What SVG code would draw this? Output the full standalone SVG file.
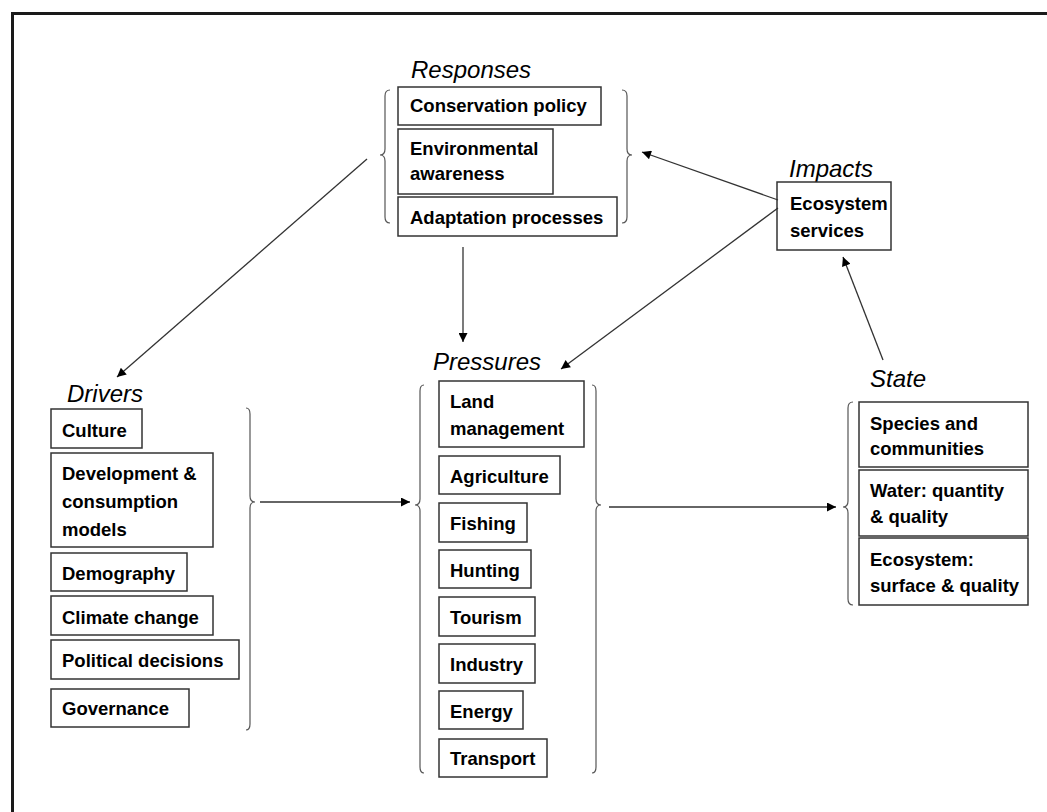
<svg xmlns="http://www.w3.org/2000/svg" width="1047" height="812" viewBox="0 0 1047 812">
<defs>
<marker id="ah" viewBox="0 0 10 10" refX="10" refY="5" markerWidth="11" markerHeight="9" markerUnits="userSpaceOnUse" orient="auto">
<path d="M0 0 L10 5 L0 10 Z" fill="#000"/>
</marker>
<style>
.box{fill:#fff;stroke:#333;stroke-width:1.5}
.t{font-family:"Liberation Sans",Arial,sans-serif;font-weight:bold;font-size:18.5px;fill:#000}
.h{font-family:"Liberation Sans",Arial,sans-serif;font-style:italic;font-size:24px;fill:#000}
.br{fill:none;stroke:#555;stroke-width:1.2}
.c{stroke:#333;stroke-width:1.3;fill:none;marker-end:url(#ah)}
</style>
</defs>
<rect width="1047" height="812" fill="#fff"/>
<path d="M12.5 812 L12.5 13.5 L1047 13.5" fill="none" stroke="#1a1a1a" stroke-width="3"/>

<g id="responses">
<text class="h" x="411" y="78">Responses</text>
<path class="br" d="M390 90 Q385 90 385 96 L385 149 Q385 155 380 155 Q385 155 385 161 L385 217 Q385 223 390 223"/>
<path class="br" d="M622 90 Q627 90 627 96 L627 149 Q627 155 632 155 Q627 155 627 161 L627 217 Q627 223 622 223"/>
<rect class="box" x="398" y="87" width="203" height="38"/>
<text class="t" x="410" y="112">Conservation policy</text>
<rect class="box" x="398" y="129" width="155" height="65"/>
<text class="t" x="410" y="155">Environmental</text>
<text class="t" x="410" y="180">awareness</text>
<rect class="box" x="398" y="197" width="219" height="39"/>
<text class="t" x="410" y="224">Adaptation processes</text>
</g>

<g id="impacts">
<text class="h" x="789" y="177">Impacts</text>
<rect class="box" x="777" y="182" width="114" height="68"/>
<text class="t" x="790" y="210">Ecosystem</text>
<text class="t" x="790" y="237">services</text>
</g>

<g id="drivers">
<text class="h" x="67" y="402">Drivers</text>
<path class="br" d="M246 408 Q250 408 250 414 L250 496 Q250 502 255 502 Q250 502 250 508 L250 724 Q250 730 246 730"/>
<rect class="box" x="51" y="409" width="91" height="39"/>
<text class="t" x="62" y="437">Culture</text>
<rect class="box" x="51" y="453" width="162" height="94"/>
<text class="t" x="62" y="480">Development &amp;</text>
<text class="t" x="62" y="508">consumption</text>
<text class="t" x="62" y="536">models</text>
<rect class="box" x="51" y="553" width="136" height="38"/>
<text class="t" x="62" y="580">Demography</text>
<rect class="box" x="51" y="596" width="162" height="39"/>
<text class="t" x="62" y="624">Climate change</text>
<rect class="box" x="51" y="640" width="188" height="39"/>
<text class="t" x="62" y="667">Political decisions</text>
<rect class="box" x="51" y="689" width="138" height="38"/>
<text class="t" x="62" y="715">Governance</text>
</g>

<g id="pressures">
<text class="h" x="433" y="370">Pressures</text>
<path class="br" d="M424 385 Q420 385 420 391 L420 499 Q420 505 415 505 Q420 505 420 511 L420 767 Q420 773 424 773"/>
<path class="br" d="M592 385 Q596 385 596 391 L596 499 Q596 505 601 505 Q596 505 596 511 L596 767 Q596 773 592 773"/>
<rect class="box" x="439" y="381" width="145" height="66"/>
<text class="t" x="450" y="408">Land</text>
<text class="t" x="450" y="435">management</text>
<rect class="box" x="439" y="456" width="121" height="38"/>
<text class="t" x="450" y="483">Agriculture</text>
<rect class="box" x="439" y="503" width="88" height="39"/>
<text class="t" x="450" y="530">Fishing</text>
<rect class="box" x="439" y="550" width="92" height="38"/>
<text class="t" x="450" y="577">Hunting</text>
<rect class="box" x="439" y="597" width="96" height="39"/>
<text class="t" x="450" y="624">Tourism</text>
<rect class="box" x="439" y="644" width="96" height="39"/>
<text class="t" x="450" y="671">Industry</text>
<rect class="box" x="439" y="691" width="84" height="38"/>
<text class="t" x="450" y="718">Energy</text>
<rect class="box" x="439" y="739" width="108" height="38"/>
<text class="t" x="450" y="765">Transport</text>
</g>

<g id="state">
<text class="h" x="870" y="387">State</text>
<path class="br" d="M853 402 Q848 402 848 408 L848 501 Q848 507 843 507 Q848 507 848 513 L848 599 Q848 605 853 605"/>
<rect class="box" x="859" y="402" width="169" height="65"/>
<text class="t" x="870" y="430">Species and</text>
<text class="t" x="870" y="455">communities</text>
<rect class="box" x="859" y="470" width="169" height="66"/>
<text class="t" x="870" y="497">Water: quantity</text>
<text class="t" x="870" y="523">&amp; quality</text>
<rect class="box" x="859" y="538" width="169" height="67"/>
<text class="t" x="870" y="566">Ecosystem:</text>
<text class="t" x="870" y="592">surface &amp; quality</text>
</g>

<g id="connectors">
<line class="c" x1="367" y1="159" x2="117" y2="377"/>
<line class="c" x1="463" y1="247" x2="463" y2="342"/>
<line class="c" x1="778" y1="200" x2="642" y2="152"/>
<line class="c" x1="778" y1="208" x2="561" y2="369"/>
<line class="c" x1="883" y1="360" x2="843" y2="257"/>
<line class="c" x1="260" y1="502" x2="410" y2="502"/>
<line class="c" x1="609" y1="507" x2="836" y2="507"/>
</g>
</svg>
